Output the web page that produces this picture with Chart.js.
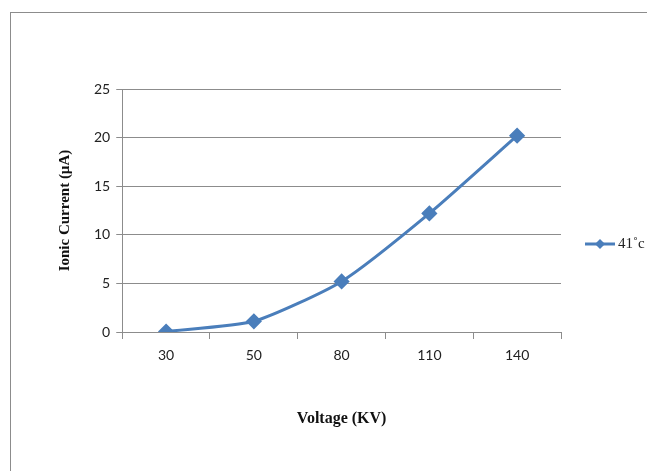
<!DOCTYPE html>
<html>
<head>
<meta charset="utf-8">
<script src="https://cdn.jsdelivr.net/npm/chart.js@4.4.0/dist/chart.umd.min.js"></script>
<style>
  html, body { margin: 0; padding: 0; background: #fff; overflow: hidden; }
  #frame { position: absolute; left: 10px; top: 12px; width: 700px; height: 520px; border: 1px solid #8c8c8c; }
  #myChart { position: absolute; left: 0; top: 0; }
</style>
</head>
<body>
<div id="frame"></div>
<canvas id="myChart" width="647" height="471"></canvas>
<script>
var voltage = ['30', '50', '80', '110', '140']
var current41 = [0.05, 1.1, 5.2, 12.2, 20.2]
var yTicks = [0, 5, 10, 15, 20, 25]
var seriesName = '41\u02dac'

var lineBlue = '#4a7ebb'

// draws the legend entry to the right of the plot, line + diamond like Excel
const sideLegend = {
  id: 'sideLegend',
  afterDraw(chart) {
    const ctx = chart.ctx
    const ds = chart.data.datasets[0]
    const y = 244
    ctx.save()
    ctx.strokeStyle = lineBlue
    ctx.lineWidth = 3
    ctx.beginPath()
    ctx.moveTo(585, y)
    ctx.lineTo(615, y)
    ctx.stroke()
    ctx.fillStyle = lineBlue
    ctx.beginPath()
    ctx.moveTo(600, y - 5)
    ctx.lineTo(605, y)
    ctx.lineTo(600, y + 5)
    ctx.lineTo(595, y)
    ctx.closePath()
    ctx.fill()
    ctx.fillStyle = '#222'
    ctx.font = '15px "Liberation Serif"'
    ctx.textBaseline = 'middle'
    ctx.fillText(ds.label, 618, y)
    ctx.restore()
  }
}

const ctx = document.getElementById('myChart').getContext('2d')

const chart = new Chart(ctx, {
  type: 'line',
  data: {
    labels: voltage,
    datasets: [{
      label: seriesName,
      data: current41,
      borderColor: lineBlue,
      backgroundColor: lineBlue,
      borderWidth: 3,
      pointStyle: 'rectRot',
      pointRadius: 6,
      pointHoverRadius: 6,
      tension: 0.2
    }]
  },
  options: {
    responsive: false,
    animation: false,
    layout: { padding: { left: 52, right: 86, top: 89, bottom: 39 } },
    plugins: {
      legend: { display: false },
      tooltip: { enabled: false }
    },
    scales: {
      x: {
        offset: true,
        grid: {
          offset: true,
          drawOnChartArea: false,
          color: '#8c8c8c',
          tickLength: 7
        },
        border: { color: '#8c8c8c' },
        ticks: {
          color: '#222',
          font: { family: 'Lato', size: 14 },
          padding: 8
        },
        title: {
          display: true,
          text: 'Voltage (KV)',
          color: '#111',
          font: { family: 'Liberation Serif', size: 16, weight: 'bold' },
          padding: { top: 37 }
        }
      },
      y: {
        min: 0,
        max: 25,
        afterBuildTicks: (axis) => { axis.ticks = yTicks.map((v) => ({ value: v })) },
        grid: {
          color: '#8c8c8c',
          tickLength: 6
        },
        border: { color: '#8c8c8c' },
        ticks: {
          color: '#222',
          font: { family: 'Lato', size: 14 },
          padding: 6
        },
        title: {
          display: true,
          text: 'Ionic Current (\u00b5A)',
          color: '#111',
          font: { family: 'Liberation Serif', size: 15, weight: 'bold' },
          padding: { bottom: 14 }
        }
      }
    }
  },
  plugins: [sideLegend]
})
</script>
</body>
</html>
